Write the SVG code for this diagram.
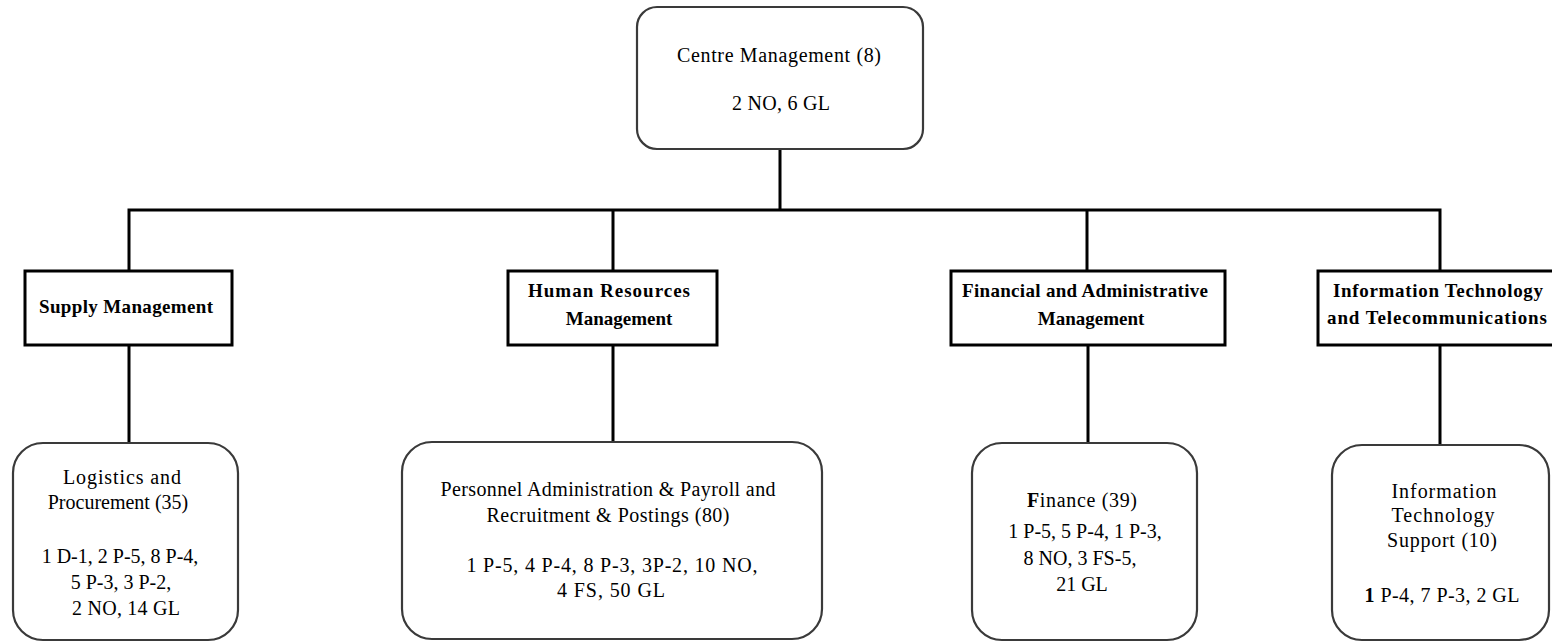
<svg xmlns="http://www.w3.org/2000/svg" width="1552" height="642" viewBox="0 0 1552 642">
<style>
.conn{stroke:#000;stroke-width:3;fill:none;stroke-linecap:square}
.box{fill:#fff;stroke:#000;stroke-width:3}
.rbox{fill:#fff;stroke:#3a3a3a;stroke-width:2.2}
.t{font-family:"Liberation Serif","Times New Roman",serif;font-size:20px;text-anchor:middle;fill:#000}
.b{font-weight:bold;font-size:19px}
</style>
<rect width="1552" height="642" fill="#fff"/>
<g id="connectors">
<path class="conn" d="M780 149V210M129 210H1440M129 210V271M613 210V271M1087 210V271M1440 210V271"/>
<path class="conn" d="M129 345V443M613 345V442M1088 345V443M1440 345V445"/>
</g>
<g id="centre-management">
<rect class="rbox" x="637" y="7" width="286" height="142" rx="20"/>
<text class="t" x="779" y="62" textLength="204">Centre Management (8)</text>
<text class="t" x="781" y="110" textLength="98">2 NO, 6 GL</text>
</g>
<g id="supply-management">
<rect class="box" x="25" y="271" width="207" height="74"/>
<text class="t b" x="126" y="313" textLength="174">Supply Management</text>
</g>
<g id="human-resources-management">
<rect class="box" x="508" y="271" width="209" height="74"/>
<text class="t b" x="609" y="297" textLength="162">Human Resources</text>
<text class="t b" x="619" y="325">Management</text>
</g>
<g id="financial-administrative-management">
<rect class="box" x="951" y="271" width="274" height="74"/>
<text class="t b" x="1085" y="297" textLength="246">Financial and Administrative</text>
<text class="t b" x="1091" y="325">Management</text>
</g>
<g id="it-telecommunications">
<rect class="box" x="1318" y="271" width="250" height="74"/>
<text class="t b" x="1438" y="297" textLength="210">Information Technology</text>
<text class="t b" x="1437" y="324" textLength="220">and Telecommunications</text>
</g>
<g id="logistics-procurement">
<rect class="rbox" x="13" y="443" width="225" height="197" rx="30"/>
<text class="t" x="122" y="484" textLength="118">Logistics and</text>
<text class="t" x="118" y="509">Procurement (35)</text>
<text class="t" x="120" y="563">1 D-1, 2 P-5, 8 P-4,</text>
<text class="t" x="121" y="589">5 P-3, 3 P-2,</text>
<text class="t" x="126" y="615" textLength="108">2 NO, 14 GL</text>
</g>
<g id="personnel-recruitment">
<rect class="rbox" x="402" y="442" width="420" height="197" rx="30"/>
<text class="t" x="608" y="496" textLength="335">Personnel Administration &amp; Payroll and</text>
<text class="t" x="608" y="522" textLength="243">Recruitment &amp; Postings (80)</text>
<text class="t" x="612" y="572" textLength="291">1 P-5, 4 P-4, 8 P-3, 3P-2, 10 NO,</text>
<text class="t" x="611" y="597" textLength="108">4 FS, 50 GL</text>
</g>
<g id="finance">
<rect class="rbox" x="972" y="443" width="225" height="197" rx="30"/>
<text class="t" x="1082" y="507" textLength="110"><tspan font-weight="bold">F</tspan>inance (39)</text>
<text class="t" x="1085" y="538">1 P-5, 5 P-4, 1 P-3,</text>
<text class="t" x="1080" y="565">8 NO, 3 FS-5,</text>
<text class="t" x="1082" y="591">21 GL</text>
</g>
<g id="it-support">
<rect class="rbox" x="1332" y="445" width="217" height="195" rx="30"/>
<text class="t" x="1444" y="498" textLength="105">Information</text>
<text class="t" x="1443" y="522" textLength="103">Technology</text>
<text class="t" x="1442" y="547" textLength="110">Support (10)</text>
<text class="t" x="1442" y="602" textLength="155"><tspan font-weight="bold">1</tspan> P-4, 7 P-3, 2 GL</text>
</g>
</svg>
